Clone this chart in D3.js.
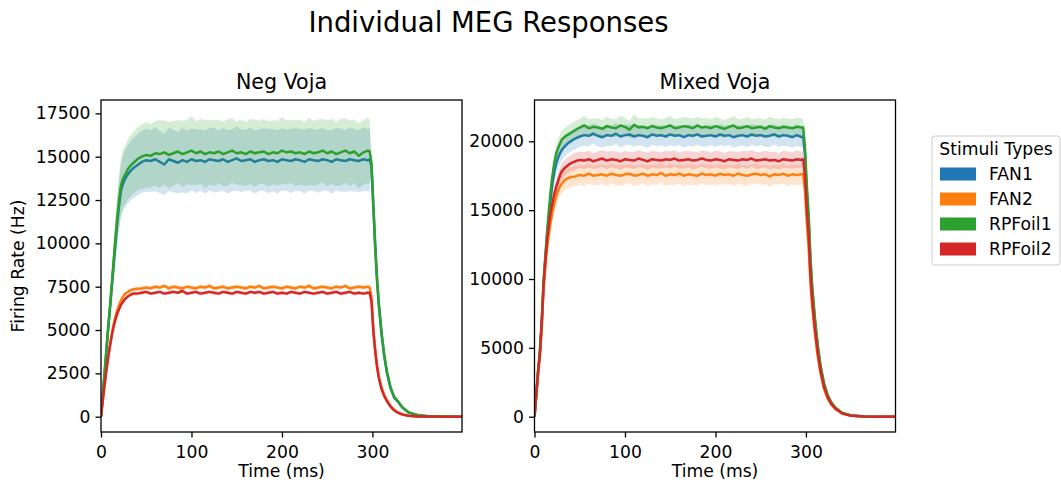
<!DOCTYPE html>
<html><head><meta charset="utf-8">
<script src="https://cdn.jsdelivr.net/npm/d3@7"></script>
<style>
body{margin:0;background:#fff}
svg{display:block}
text{font-family:"DejaVu Sans",sans-serif;fill:#000}
</style>
</head><body>
<svg id="chart" width="1061" height="483"></svg>
<script>
// ---------------- DATA ----------------
const mainTitle = "Individual MEG Responses";
const panelTitles = ["Neg Voja", "Mixed Voja"];
const categories = ["FAN1", "FAN2", "RPFoil1", "RPFoil2"];
const legendTitle = "Stimuli Types";
const xLabel = "Time (ms)";
const yLabel = "Firing Rate (Hz)";
const xTicks = [0, 100, 200, 300];
const xLim = [0, 399];
const negYTicks = [0, 2500, 5000, 7500, 10000, 12500, 15000, 17500];
const negYLim = [-883, 18270];
const mixYTicks = [0, 5000, 10000, 15000, 20000];
const mixYLim = [-1110, 23000];

const times = [0,2,4,6,8,10,12,14,16,18,20,22,24,26,28,30,33,36,
40,45,50,55,60,65,70,75,80,85,90,95,100,105,110,115,120,125,130,135,140,145,150,155,160,165,170,175,180,185,190,195,200,205,210,215,220,225,230,235,240,245,250,255,260,265,270,275,280,285,290,295,
297,299,301,303,305,307,310,313,316,320,324,328,333,340,350,365,380,399];

// Neg Voja means
const negFan1 = [0,1250,2500,3800,5100,6300,7550,8800,10000,11200,12200,13000,13400,13650,13850,14000,14200,14350,
14500,14700,14800,14750,14850,14700,14550,14850,14750,14650,
14800,14700,14850,14750,14800,14700,14850,14800,14750,14850,
14700,14800,14900,14750,14800,14850,14700,14800,14850,14750,
14800,14700,14850,14800,14750,14850,14800,14700,14850,14800,
14750,14850,14800,14700,14850,14800,14750,14850,14800,14750,
14850,14800,
14850,14400,12100,9800,7900,6450,4800,3500,2550,1650,1100,870,530,240,80,15,5,2];
const negFan2 = [0,950,1850,2700,3450,4150,4800,5350,5800,6150,6450,6700,6900,7050,7150,7200,7300,7350,
7380,7400,7450,7400,7500,7450,7550,7400,7500,7450,
7400,7500,7450,7400,7500,7450,7550,7400,7450,7500,
7400,7450,7500,7450,7400,7500,7450,7550,7400,7450,
7500,7450,7400,7500,7450,7400,7500,7450,7550,7400,
7450,7500,7450,7400,7500,7450,7550,7400,7450,7500,
7450,7500,
7450,6900,5100,3950,3000,2350,1700,1250,950,620,390,250,135,55,15,5,2,1];
const negRP1 = [0,1300,2600,3900,5200,6400,7700,9000,10300,11500,12500,13300,13700,13900,14100,14300,14500,14650,
14850,15000,15100,15050,15200,15150,15250,15100,15200,15300,
15150,15250,15350,15200,15300,15150,15250,15200,15300,15150,
15250,15350,15200,15250,15150,15300,15200,15250,15300,15150,
15250,15200,15350,15250,15300,15200,15250,15150,15300,15200,
15250,15350,15200,15300,15150,15250,15350,15200,15300,15050,
15250,15350,
15300,14600,12300,10000,8100,6600,4900,3600,2600,1700,1150,900,550,250,80,15,5,2];
const negRP2 = [0,950,1850,2700,3450,4100,4700,5200,5600,5950,6200,6450,6600,6750,6850,6950,7050,7100,
7100,7150,7200,7100,7150,7200,7100,7150,7200,7150,
7250,7100,7150,7200,7100,7150,7200,7150,7100,7200,
7150,7100,7200,7150,7100,7200,7150,7200,7100,7150,
7200,7100,7150,7100,7200,7150,7100,7200,7150,7100,
7150,7200,7100,7150,7200,7100,7150,7200,7100,7150,
7100,7150,
7150,6600,4900,3800,2900,2250,1600,1200,900,580,370,230,125,50,15,5,2,1];

// Neg Voja spreads
const negFan1Sd = [0,150,300,450,610,760,900,1050,1200,1340,1460,1560,1610,1640,1660,1680,1710,1740,
1760,1800,1820,1780,1850,1800,1760,1830,1800,1780,
1850,1810,1790,1840,1770,1820,1800,1860,1780,1810,
1830,1790,1850,1800,1770,1820,1840,1780,1810,1860,
1790,1820,1800,1770,1840,1810,1790,1850,1800,1780,
1830,1810,1760,1840,1800,1820,1780,1850,1800,1790,
1830,1800,
1800,250,200,150,120,100,80,60,45,30,20,14,8,4,2,1,0,0];
const negFan2Sd = [0,20,40,60,70,80,90,100,105,110,115,120,120,120,120,120,120,120,
120,130,115,125,140,120,110,130,125,135,
120,115,130,125,140,120,130,115,125,135,
120,130,125,115,140,120,130,125,115,135,
125,120,130,140,115,125,130,120,135,125,
115,130,125,120,140,125,115,130,120,135,
125,120,
120,100,80,60,50,40,30,20,15,10,8,5,3,2,1,0,0,0];
const negRP1Sd = [0,160,310,470,620,770,920,1080,1240,1380,1500,1600,1650,1680,1700,1720,1750,1780,
1800,1850,1900,1820,1880,1950,1840,1900,1870,1800,
1920,1860,2000,1830,1880,1950,1850,1900,1820,1870,
1930,1860,1800,1900,1850,1880,1950,1820,1870,1900,
1840,1880,1920,1850,1800,1900,1870,1830,1950,1860,
1890,1820,1900,1870,1840,1930,1860,1900,1820,1880,
1850,1900,
1850,250,200,150,120,100,80,60,45,30,20,14,8,4,2,1,0,0];
const negRP2Sd = [0,20,40,55,65,75,85,90,95,100,100,105,105,105,105,105,105,105,
105,110,100,115,105,95,110,105,120,100,
110,105,95,115,105,110,100,120,105,95,
110,105,115,100,105,110,95,115,105,100,
110,120,105,95,110,105,115,100,105,110,
95,115,105,100,110,120,105,95,110,105,
100,110,
105,90,70,55,45,35,25,18,13,9,6,4,2,1,0,0,0,0];

// Mixed Voja means
const mixFan1 = [0,1650,3300,4700,6700,9600,11500,13200,14700,15900,17000,17800,18400,18800,19100,19350,19600,19800,
20000,20200,20350,20450,20400,20550,20400,20300,20450,20400,
20550,20350,20450,20500,20350,20450,20400,20300,20500,20400,
20450,20350,20500,20400,20450,20300,20450,20400,20500,20350,
20400,20450,20350,20500,20400,20450,20300,20400,20450,20350,
20500,20400,20450,20350,20400,20500,20350,20450,20400,20300,
20450,20300,
20350,18970,16320,14280,11220,9180,6940,5100,3670,2350,1530,1020,610,265,80,20,5,2];
const mixFan2 = [0,1550,3100,4400,6400,9300,10900,12300,13300,14200,14900,15500,16000,16400,16700,16900,17150,17300,
17400,17450,17550,17500,17650,17500,17550,17600,17500,17650,
17550,17500,17600,17650,17500,17550,17650,17500,17600,17550,
17700,17500,17600,17550,17650,17500,17600,17550,17500,17650,
17550,17600,17500,17650,17550,17600,17500,17650,17550,17500,
17600,17650,17550,17600,17450,17600,17550,17650,17500,17600,
17550,17600,
17600,16370,14080,12320,9680,7920,5980,4400,3170,2020,1320,880,530,230,70,18,5,2];
const mixRP1 = [0,1700,3400,4800,7000,9900,11700,13500,15100,16500,17600,18500,19100,19500,19800,20100,20300,20450,
20600,20800,21000,21150,20950,21050,21000,20900,21100,21000,
20950,21150,21050,20850,21200,21000,21050,20950,21100,21000,
20950,21050,21150,20950,21000,21100,21050,20950,21150,21000,
21050,20950,21100,21000,20900,21050,21150,20950,21000,21100,
20950,21000,21050,20900,21100,21000,20950,21050,21000,20950,
21050,21000,
21000,19500,16800,14700,11550,9450,7140,5250,3780,2420,1580,1050,630,270,85,20,5,2];
const mixRP2 = [0,1600,3250,4600,6900,9500,11300,12800,14000,14900,15600,16200,16700,17100,17500,17800,18050,18200,
18400,18550,18650,18600,18700,18550,18650,18750,18600,18700,
18650,18550,18700,18650,18600,18750,18650,18550,18700,18650,
18600,18700,18650,18750,18600,18650,18700,18600,18650,18750,
18650,18600,18700,18650,18550,18700,18650,18600,18700,18650,
18750,18600,18650,18700,18600,18650,18550,18700,18650,18600,
18700,18650,
18700,17390,14960,13090,10290,8420,6360,4680,3370,2150,1400,935,560,245,75,20,5,2];

// Mixed Voja spreads
const mixFan1Sd = [0,60,130,190,270,380,450,520,580,630,670,700,720,730,740,740,740,740,
750,770,740,780,760,730,770,750,790,740,
760,780,750,730,770,760,740,790,750,770,
730,760,780,750,740,770,760,790,730,750,
770,740,760,780,750,730,770,760,740,780,
750,770,730,760,790,750,740,770,760,750,
780,750,
750,400,300,240,190,150,110,80,60,40,25,15,10,5,2,1,0,0];
const mixFan2Sd = [0,60,120,180,260,370,430,490,540,590,620,650,680,690,700,710,720,720,
720,740,710,750,730,700,740,720,760,710,
730,750,720,700,740,730,710,760,720,740,
700,730,750,720,710,740,730,760,700,720,
740,710,730,750,720,700,740,730,710,750,
720,740,700,730,760,720,710,740,730,720,
750,720,
720,400,300,240,190,150,110,80,60,40,25,15,10,5,2,1,0,0];
const mixRP1Sd = [0,50,110,160,230,320,380,440,490,530,560,590,610,630,640,650,650,650,
650,670,640,690,660,630,680,650,710,640,
660,690,650,630,770,660,640,690,650,670,
630,660,690,650,640,680,660,710,630,650,
670,640,660,690,650,630,680,660,640,690,
650,670,630,660,710,650,640,670,660,650,
690,650,
650,350,280,220,180,140,100,80,60,40,25,15,10,5,2,1,0,0];
const mixRP2Sd = [0,50,100,150,220,300,360,410,450,490,520,540,560,570,580,590,600,600,
600,620,590,630,610,580,620,600,640,590,
610,630,600,580,620,610,590,640,600,620,
580,610,630,600,590,620,610,640,580,600,
620,590,610,630,600,580,620,610,590,630,
600,620,580,610,640,600,590,620,610,600,
630,600,
600,350,280,220,180,140,100,80,60,40,25,15,10,5,2,1,0,0];

// ---------------- STYLE ----------------
const colors = ["#1f77b4", "#ff7f0e", "#2ca02c", "#d62728"];

const panels = [
  { title: panelTitles[0], left: 101, right: 462, yLim: negYLim, yTicks: negYTicks,
    means: [negFan1, negFan2, negRP1, negRP2], sds: [negFan1Sd, negFan2Sd, negRP1Sd, negRP2Sd], showYLabel: true },
  { title: panelTitles[1], left: 534.5, right: 895.5, yLim: mixYLim, yTicks: mixYTicks,
    means: [mixFan1, mixFan2, mixRP1, mixRP2], sds: [mixFan1Sd, mixFan2Sd, mixRP1Sd, mixRP2Sd], showYLabel: false }
];
const plotTop = 100, plotBottom = 432;
const tickFont = "17.2px", labelFont = "17.2px";

const svg = d3.select("#chart");
svg.append("rect").attr("width", 1061).attr("height", 483).attr("fill", "#fff");

svg.append("text").attr("x", 488.5).attr("y", 32).attr("text-anchor", "middle")
  .style("font-size", "27.5px").text(mainTitle);

panels.forEach((p, pi) => {
  const x = d3.scaleLinear().domain(xLim).range([p.left, p.right]);
  const y = d3.scaleLinear().domain(p.yLim).range([plotBottom, plotTop]);
  const clipId = "clip" + pi;
  svg.append("clipPath").attr("id", clipId).append("rect")
    .attr("x", p.left).attr("y", plotTop).attr("width", p.right - p.left).attr("height", plotBottom - plotTop);
  const g = svg.append("g").attr("clip-path", `url(#${clipId})`);

  categories.forEach((c, i) => {
    const pts = times.map((t, k) => ({ t: t, m: p.means[i][k], s: p.sds[i][k] }));
    g.append("path").datum(pts)
      .attr("d", d3.area().x(d => x(d.t)).y0(d => y(d.m - d.s)).y1(d => y(d.m + d.s)))
      .attr("fill", colors[i]).attr("fill-opacity", 0.2).attr("stroke", "none");
    g.append("path").datum(pts)
      .attr("d", d3.line().x(d => x(d.t)).y(d => y(d.m)))
      .attr("fill", "none").attr("stroke", colors[i]).attr("stroke-width", 2.5)
      .attr("stroke-linejoin", "round").attr("stroke-linecap", "butt");
  });

  // axes
  const xAxis = svg.append("g").attr("transform", `translate(0,${plotBottom})`)
    .call(d3.axisBottom(x).tickValues(xTicks).tickFormat(d3.format("d")).tickSize(5.5).tickPadding(8));
  const yAxis = svg.append("g").attr("transform", `translate(${p.left},0)`)
    .call(d3.axisLeft(y).tickValues(p.yTicks).tickFormat(d3.format("d")).tickSize(5.5).tickPadding(5));
  [xAxis, yAxis].forEach(a => {
    a.select(".domain").remove();
    a.selectAll(".tick line").attr("stroke", "#000").attr("stroke-width", 1.3);
    a.selectAll(".tick text").style("font-size", tickFont).style("font-family", '"DejaVu Sans",sans-serif').attr("fill", "#000");
  });
  xAxis.selectAll(".tick text").attr("dy", "0.71em");

  // frame
  svg.append("rect").attr("x", p.left).attr("y", plotTop)
    .attr("width", p.right - p.left).attr("height", plotBottom - plotTop)
    .attr("fill", "none").attr("stroke", "#000").attr("stroke-width", 1.3);

  const cx = (p.left + p.right) / 2;
  svg.append("text").attr("x", cx).attr("y", 89).attr("text-anchor", "middle")
    .style("font-size", "20.6px").text(p.title);
  svg.append("text").attr("x", cx).attr("y", 476.5).attr("text-anchor", "middle")
    .style("font-size", labelFont).text(xLabel);
  if (p.showYLabel) {
    svg.append("text").attr("transform", `translate(23.5,${(plotTop + plotBottom) / 2}) rotate(-90)`)
      .attr("text-anchor", "middle").style("font-size", labelFont).text(yLabel);
  }
});

// legend
const lg = svg.append("g");
lg.append("rect").attr("x", 932).attr("y", 136).attr("width", 128).attr("height", 129)
  .attr("rx", 3).attr("fill", "#fff").attr("fill-opacity", 0.8).attr("stroke", "#cccccc").attr("stroke-width", 1);
lg.append("text").attr("x", 996).attr("y", 155).attr("text-anchor", "middle")
  .style("font-size", "17.2px").text(legendTitle);
categories.forEach((c, i) => {
  const yc = 174 + i * 25;
  lg.append("rect").attr("x", 940).attr("y", yc - 6.5).attr("width", 36).attr("height", 13).attr("fill", colors[i]);
  lg.append("text").attr("x", 989).attr("y", yc).attr("dy", "0.36em").style("font-size", "17.2px").text(c);
});
</script>
</body></html>
